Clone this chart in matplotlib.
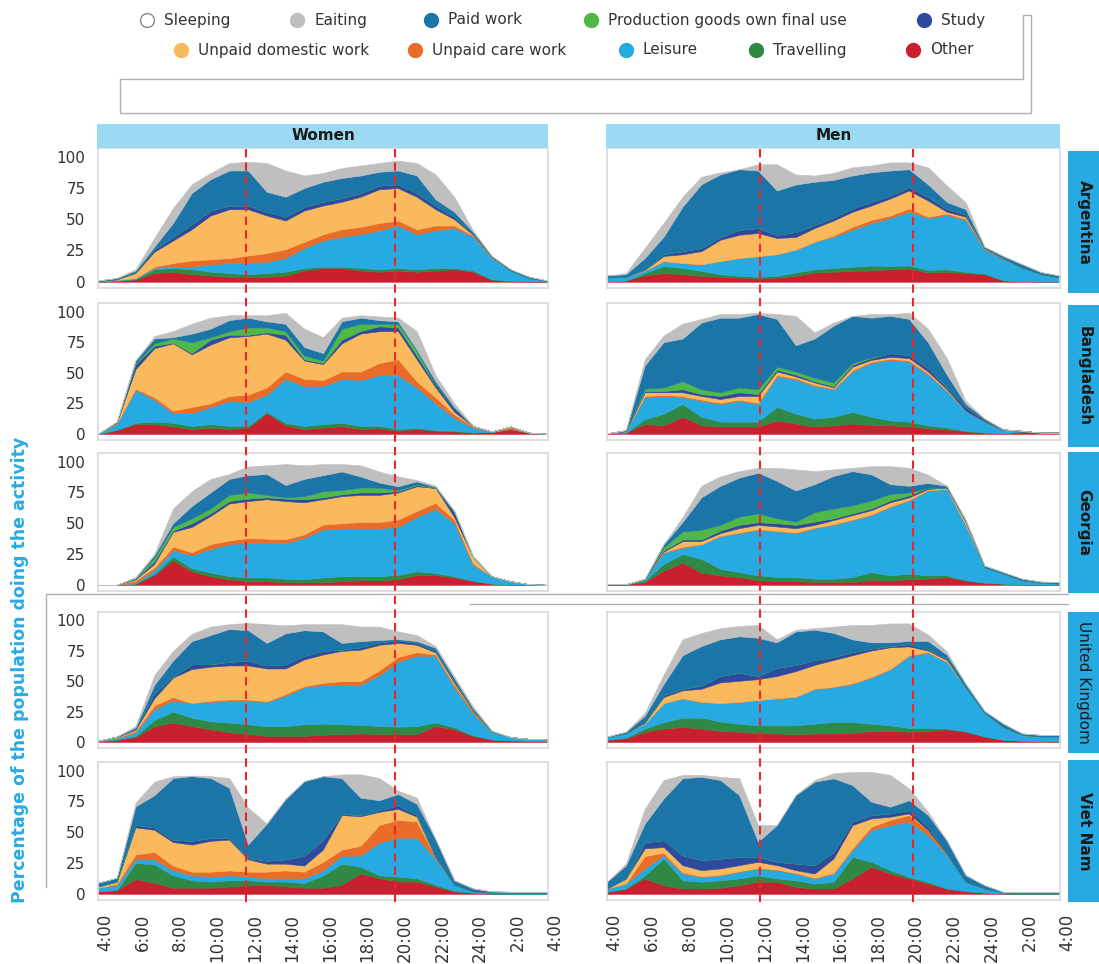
import matplotlib
matplotlib.use("Agg")
import matplotlib.pyplot as plt
from matplotlib.lines import Line2D
from matplotlib.patches import Rectangle, Polygon
from matplotlib import transforms

# hours of the day, 4:00 to 4:00 next day
hours = list(range(4, 29))
tick_hours = list(range(4, 29, 2))
tick_labels = ["4:00", "6:00", "8:00", "10:00", "12:00", "14:00", "16:00",
               "18:00", "20:00", "22:00", "24:00", "2:00", "4:00"]

countries = ["Argentina", "Bangladesh", "Georgia", "United Kingdom", "Viet Nam"]
sexes = ["Women", "Men"]

# stacking order, bottom to top (sleeping = white remainder, not drawn)
activities = ["Other", "Travelling", "Leisure", "Unpaid care work", "Unpaid domestic work",
              "Study", "Production goods own final use", "Paid work", "Eaiting"]
colors = ["#C8202F", "#2F8843", "#27AAE1", "#E96C28", "#FBB95E",
          "#2E4A9E", "#50B848", "#1B75A9", "#BFBFBF"]

# rows: other, travel, leisure, care, domestic, study, prod, paid, eating
#           4    5    6    7    8    9   10   11   12   13   14   15   16   17   18   19   20   21   22   23   24   25   26   27   28
arg_women = [
    [0, 0.5, 2, 7, 8, 6, 5, 4, 4, 4, 5, 9, 11, 11, 9, 8, 9, 8, 9, 10, 8, 1.5, 0.5, 0.3, 0.1],
    [0.2, 0.5, 0, 3, 3, 4, 3, 3, 2, 3, 3, 2, 1, 1, 2, 2, 2, 2, 2, 1, 1, 0.5, 0.5, 0.2, 0.1],
    [0.3, 0.5, 1, 1, 1, 2, 6, 8, 9, 9, 11, 16, 21, 24, 27, 31, 34, 28, 30, 32, 27, 17, 8, 2.5, 0.3],
    [0, 0, 0, 1, 3, 5, 4, 4, 6, 7, 7, 5, 5, 6, 6, 6, 4, 4, 4, 2, 1, 0.2, 0, 0, 0],
    [0, 0.5, 4, 12, 18, 25, 35, 39, 37, 30, 23, 25, 23, 22, 24, 27, 26, 26, 13, 5, 0.5, 0.3, 0, 0, 0],
    [0, 0, 1, 2, 3, 4, 4, 3, 3, 3, 3, 3, 3, 3, 3, 3, 3, 3, 3, 2, 1, 0.3, 0, 0, 0],
    [0] * 25,
    [0.5, 1, 1, 2, 11, 25, 25, 28, 28, 16, 16, 15, 16, 16, 14, 11, 11, 14, 5, 4, 1.5, 0.7, 1, 1, 0.5],
    [0, 0, 1, 7, 12, 7, 5, 6, 7, 23, 21, 10, 7, 8, 8, 7, 8, 10, 20, 12, 1, 0.5, 0, 0, 0],
]
arg_men = [
    [0.5, 1, 5, 7, 6, 4.7, 4, 3.4, 2.6, 3.4, 4.7, 7.4, 8, 8.7, 9, 10, 10.5, 7.4, 8, 7, 6, 1, 0.5, 0.3, 0.2],
    [0, 0, 2, 5.6, 5, 4, 2, 1.3, 1.4, 1.3, 2.7, 2.6, 3, 3.3, 4, 2.6, 2.5, 2.1, 2, 1, 0.5, 0.2, 0, 0, 0],
    [3, 3, 2, 4, 4, 5.3, 10.6, 14.3, 16.5, 17.3, 18.4, 22, 25, 29.6, 34, 38.4, 43, 41.5, 43.4, 41.5, 19.3, 16.8, 10.8, 5.7, 3.2],
    [0, 0, 0, 0, 0, 0, 0, 0, 0, 0, 0, 0, 1, 2.4, 2.5, 2, 2.7, 1, 1.3, 1, 1.2, 0.7, 0, 0, 0],
    [0, 0, 0.5, 4, 7, 10.5, 17, 18.6, 18.5, 13, 10, 11, 12, 12, 11.5, 13.6, 14.3, 13, 1.3, 1.5, 0, 0, 0, 0, 0],
    [0, 0, 0.5, 1.5, 2.5, 2.5, 2.3, 4, 4, 2.6, 4, 2.5, 2.5, 2.7, 3, 2.4, 2.8, 3, 2.3, 2, 0, 0, 0, 0, 0],
    [0] * 25,
    [1.5, 2, 9, 14, 35.5, 51, 50, 48.4, 46, 35.4, 38, 34.5, 30, 26.3, 23.6, 20, 14.2, 10, 5.6, 4, 1, 1.8, 2.7, 1.7, 1.5],
    [0, 1, 8, 11, 8, 6, 1.6, 0, 5, 21, 8, 5, 5.6, 6.6, 5.4, 6.5, 5.5, 13.6, 13.2, 5.6, 0, 0, 0, 0, 0],
]
ban_women = [
    [0, 3, 8, 8, 6, 4, 5, 4, 5, 17, 7, 4, 5, 6.5, 4, 4.5, 2.5, 4, 2.5, 2, 1, 1.5, 4, 1, 0],
    [0, 0.5, 1, 2, 3, 2.5, 3, 2.5, 1.5, 1, 2, 2.5, 3, 2.5, 2.5, 2, 1.5, 1, 0.5, 0.5, 0.2, 0.1, 0, 0, 0],
    [0, 4.5, 27, 18, 8, 10.5, 14, 20.5, 19.5, 14, 36, 32.5, 31, 36, 37.5, 41.5, 44, 33, 22, 10.5, 3.8, 0, 0, 0, 0],
    [0, 0.5, 1, 2, 2, 5, 3, 4, 6, 6, 6, 6, 5, 6, 7, 10, 13, 5, 5, 3, 1, 0.4, 2, 0, 0],
    [0, 0.5, 16, 40, 55, 43, 48, 48, 48, 44, 26, 15, 13, 23, 31, 26, 23, 18, 8, 2, 0.3, 0, 0, 0, 0],
    [0, 0.5, 4, 2, 0.5, 1, 4, 2, 1, 1, 4, 1, 1, 3, 2, 4, 3, 3, 2, 3, 0.2, 0, 0, 0, 0],
    [0, 0, 1, 2, 3.5, 9, 2, 3, 6, 4, 3, 3, 2, 9, 6, 2, 3, 4, 0, 0, 0, 0, 0, 0, 0],
    [0, 0.5, 2, 4, 1, 7, 7, 9, 8, 5, 6, 7, 6, 6, 5, 3, 2, 1, 3, 1, 0, 0, 0, 0, 0],
    [0, 0, 0, 2, 5, 8, 9, 4, 2, 5, 9, 15, 13, 3, 2, 3, 3, 15, 5, 3, 0, 0, 0, 0, 0],
]
ban_men = [
    [0.5, 1, 8, 7, 14, 7, 6, 6, 6, 11, 8.5, 6, 7, 8.5, 7, 7, 6, 4.5, 3.7, 2, 1, 0.5, 2, 1, 1],
    [0, 0, 4, 9.5, 10.5, 7, 4, 4, 4, 11, 8, 6.5, 7, 9.5, 7, 4, 4, 2.5, 1.6, 0.5, 0.2, 0, 0, 0, 0],
    [0, 1, 18, 14.5, 5.5, 13, 14.5, 17, 14.5, 25, 28, 26.5, 22.5, 33, 44, 49.5, 49, 41.5, 29.7, 16.5, 8.8, 2.5, 0.5, 0, 0],
    [0, 0, 1, 1, 1, 1, 1, 1, 1, 1, 1, 1, 0.5, 1, 1, 1, 1, 1, 0.5, 0, 0, 0, 0, 0, 0],
    [0, 0, 3, 2, 3, 3, 3, 3, 5.5, 3, 1.5, 2, 1, 3, 1.5, 1.5, 2, 1.5, 1, 0, 0, 0, 0, 0, 0],
    [0, 1, 1, 1, 2.5, 1.5, 2.5, 3, 1.5, 1.5, 1.5, 1, 1, 1.5, 1.5, 3, 2.5, 3, 1.5, 3, 1, 0.7, 0, 0, 0],
    [0, 0, 2, 3, 6.5, 4, 3, 4, 4, 2.5, 2.5, 3, 3, 1.5, 0.5, 0, 0, 0, 0, 0, 0, 0, 0, 0, 0],
    [0, 0, 19, 37, 35, 54.5, 61, 57, 61.5, 39, 21.5, 32, 46.5, 38.5, 32.5, 30.5, 29.5, 21, 10.5, 2.5, 1.5, 0, 0, 0, 0],
    [0, 0, 5, 5.5, 12, 3, 3, 3, 1, 4, 24, 5, 2.5, 0, 3, 1.5, 5, 11, 13.5, 2.5, 0, 0, 0, 0, 0],
]
geo_women = [
    [0, 0, 1, 8, 20, 11, 7, 4.5, 3, 3, 2, 2, 2, 3, 3.6, 3.6, 4.5, 8, 8, 6, 3, 1, 0.3, 0, 0],
    [0, 0, 0, 1, 3, 2.5, 3, 2.5, 3, 3, 3, 2.5, 4, 4, 3.4, 3.4, 3.5, 3, 1.6, 1, 0.3, 0, 0, 0, 0],
    [0, 0, 0.5, 3, 5, 10.5, 19, 26, 28, 28, 29, 33.5, 39, 39, 39, 39, 39, 44, 52, 43, 13, 6, 2.7, 0.5, 0],
    [0, 0, 2, 2, 3, 2.5, 4, 3, 4, 3.5, 3, 3, 4, 4, 5, 5, 6, 5, 5, 3, 1, 0, 0, 0, 0],
    [0, 0, 1, 3, 12, 20.5, 23, 30, 30, 32, 31, 26, 20.5, 22, 22, 22, 22, 20, 12, 2, 5, 0, 0, 0, 0],
    [0, 0, 0.5, 2, 1, 3, 2, 2, 2, 1.5, 2, 2.5, 1.5, 1.5, 2, 2, 1, 1, 0, 4, 0.5, 0, 0, 0, 0],
    [0, 0, 0.5, 3, 3, 4, 4, 5, 5, 2, 1, 2.5, 5, 3.5, 4, 4, 1, 0.5, 0.5, 0, 0, 0, 0, 0, 0],
    [0, 0, 0.5, 2, 3, 10, 13, 13, 14, 17, 10, 14, 13, 15, 9, 4, 3, 2.5, 0.5, 1, 0, 0, 0, 0, 0],
    [0, 0, 0, 1, 12, 12, 11, 4, 7, 7, 17, 11, 9, 6, 9, 9, 8, 1, 1, 0, 0, 0, 0, 0, 0],
]
geo_men = [
    [0.3, 0.3, 2.4, 11.6, 18, 10, 7.7, 6.3, 3.7, 3, 3, 2.4, 2.4, 2.4, 3.7, 3.7, 4.5, 5, 6.3, 3.7, 1.8, 1, 0.3, 0.2, 0.1],
    [0, 0, 1, 5.4, 7, 11, 5.3, 4, 4, 3.3, 3.3, 2.6, 2.6, 3.9, 6.6, 4, 4.5, 2.7, 1.5, 0, 0, 0, 0, 0, 0],
    [0.2, 0.2, 1.1, 9, 5, 12, 26.4, 31.7, 37, 37.1, 35.7, 41, 43.7, 46.3, 46.3, 55.5, 59.5, 68.8, 70, 45, 12.5, 8, 3.4, 1.6, 0.9],
    [0, 0, 0, 0.5, 1, 0, 0.5, 0.5, 0.5, 0.5, 0.5, 0.5, 0.5, 0.5, 0.5, 0.5, 0.5, 0.3, 0.2, 0, 0, 0, 0, 0, 0],
    [0, 0, 0, 0.5, 4.5, 2.5, 2.1, 3.5, 3.5, 3.5, 3.5, 2.2, 3.4, 3.5, 3.5, 3.3, 2, 1, 1, 2.6, 0, 0, 0, 0, 0],
    [0, 0, 0, 1, 1.3, 1.3, 2, 2.7, 2.1, 2.6, 2.7, 2.6, 1.4, 1.4, 1.4, 1.5, 1.5, 1, 0, 0, 0, 0, 0, 0, 0],
    [0, 0, 0, 2.5, 6.6, 7.9, 4.7, 6.6, 7.2, 4, 2.6, 7.7, 8, 6.6, 6.5, 5.3, 2.5, 0, 0, 0, 0, 0, 0, 0, 0],
    [0, 0, 0.5, 2.5, 7.6, 26.3, 31.7, 31.7, 33, 30.4, 25.2, 22.7, 26.4, 27.7, 21.2, 7.9, 5.4, 3.9, 1.4, 1.3, 1.3, 1.3, 1.3, 0.8, 1.4],
    [0, 0, 0, 0, 4, 9.4, 7.6, 5.3, 4, 10.6, 17.2, 10.6, 5.3, 2.7, 6.6, 14.6, 14.6, 6.7, 0, 0, 0, 0, 0, 0, 0],
]
uk_women = [
    [0.5, 1.5, 4, 13, 16, 13, 10.5, 8, 6.5, 5, 5, 5, 6, 6.5, 7, 6.5, 6.5, 6.5, 13, 10.5, 5, 2, 1.3, 1, 1],
    [0, 0.5, 1, 5, 9, 7, 6.5, 8, 8, 8, 8, 9.5, 9, 8, 7, 6.5, 6.1, 6.5, 3, 1.5, 0.5, 0, 0, 0, 0],
    [0.5, 1, 3, 9, 9, 12, 16, 18, 19.5, 20, 25, 30.5, 32, 32.5, 33, 42, 53.4, 58, 55, 33, 18, 6, 2.7, 1.5, 1],
    [0, 0.5, 1, 3, 3, 0, 1, 1, 1, 0.5, 1.5, 1, 1.7, 3, 3, 4, 4, 3, 1, 2, 2.3, 0.5, 0, 0, 0],
    [0, 0.5, 1, 6, 16, 28, 28, 28, 28, 27, 21, 22, 23.3, 25, 26, 21, 11.6, 6, 1.7, 1.7, 0, 0, 0, 0, 0],
    [0, 0.2, 1, 4, 1, 4, 2, 3, 4, 2.5, 3.5, 3, 3, 1, 2, 2, 2.1, 1.6, 1.3, 1.8, 0.5, 0, 0, 0, 0],
    [0] * 25,
    [0, 0.3, 1, 7, 13, 19, 24, 27, 25, 18.5, 25.5, 21, 16, 5.5, 5, 2, 1, 1.4, 2.6, 2.1, 1.5, 0.5, 0, 0, 0],
    [0, 0, 1, 8, 8, 6, 7, 4, 6, 15.5, 6.5, 5, 6, 15.5, 12, 11, 6.3, 5, 1.4, 1.4, 1.5, 0.5, 0, 0, 0],
]
uk_men = [
    [1.8, 3, 8.4, 11, 12.3, 11, 9, 8.4, 7, 7, 6.3, 7, 7, 7.6, 9, 9, 8.4, 9, 10.5, 8.4, 4.5, 1.8, 1, 0.6, 0.5],
    [0, 0.5, 2.6, 5.3, 7.7, 9, 7.8, 6.6, 6.6, 6.6, 7.3, 8, 9.3, 8.7, 6, 4.6, 3.1, 2.5, 0.5, 0.3, 0, 0, 0, 0, 0],
    [2.7, 3.5, 4, 15.7, 16, 13, 15.2, 18, 21, 22.4, 23.7, 28.8, 28.7, 31.5, 38, 46, 59.4, 62, 55, 36.3, 19.5, 10.5, 4.8, 3.9, 4],
    [0, 0, 0, 0, 0, 0, 0, 0, 0, 0, 0, 0, 0.5, 0.5, 0.5, 0.5, 0.5, 0.5, 0, 0, 0, 0, 0, 0, 0],
    [0, 0, 1, 5, 6.5, 10.8, 17, 17.4, 17.1, 18.3, 21, 19.7, 22, 23.1, 21.8, 17.9, 7.3, 1.3, 1.5, 0, 0, 0, 0, 0, 0],
    [0, 0, 0, 1.6, 1.3, 2.7, 5.3, 6.6, 2.6, 6.7, 5.2, 4, 2.5, 2.6, 1.7, 1, 1.9, 1.3, 1, 0, 0, 0, 0, 0, 0],
    [0] * 25,
    [0, 1.4, 5.5, 9.2, 27.6, 32.5, 30.2, 30, 31.5, 21, 27.5, 24.9, 19.8, 10.5, 5, 3, 2.6, 6.6, 3.4, 2.8, 1.5, 2.7, 1.2, 1.3, 1.3],
    [0, 0, 2.5, 7.8, 13.1, 10.7, 9.2, 8.5, 10.5, 2.5, 1.4, 1.3, 5.2, 11.8, 14.3, 15.6, 14.4, 5.3, 2.6, 0, 0, 0, 0, 0, 0],
]
vn_women = [
    [2, 3, 12, 9, 5, 5, 5, 6, 7, 7.4, 6, 5, 5, 7.4, 16.6, 12.6, 10, 10, 6, 2, 1, 0.2, 0.1, 0.1, 0.1],
    [0, 0, 13, 15, 10, 6, 5, 5, 4, 2.6, 4, 3.7, 10, 17, 5.4, 2.4, 4, 2.6, 1.4, 0.5, 0, 0, 0, 0, 0],
    [3, 4, 3, 4, 4, 4, 4, 4, 3, 2.6, 2.6, 3.9, 4, 6.5, 9, 26.6, 31.5, 33, 21, 4.9, 1, 0.8, 0.6, 0.6, 0.6],
    [0, 1, 4, 6, 4, 3, 4, 4, 4, 5.4, 6.4, 5.4, 7, 5, 8, 14.4, 14.5, 13.2, 1.3, 0, 0, 0, 0, 0, 0],
    [1, 2, 22, 18, 19, 22, 25, 25, 10, 6.5, 5.5, 5, 10, 28, 24, 10.6, 9, 3.9, 0, 0, 0, 0, 0, 0, 0],
    [0, 0, 2, 2, 2, 3, 2.5, 1.5, 1, 2.5, 3.5, 8, 8, 1, 1, 1.4, 3, 1.4, 0.3, 0, 0, 0, 0, 0, 0],
    [0] * 25,
    [3, 3, 15, 26, 50, 52.5, 48.5, 40.5, 11, 30, 49, 60.5, 51.5, 29, 14, 8, 9, 9, 14.3, 3.6, 2.4, 1, 1, 1, 1],
    [0, 0, 3, 11, 1.5, 0.5, 1.5, 8, 30, 0, 0, 0, 0, 3, 19, 18, 2.7, 5, 0, 0, 0, 0, 0, 0, 0],
]
vn_men = [
    [1.6, 4.3, 12.5, 7, 4.3, 4.3, 4.9, 7, 9.8, 9.8, 5.7, 4.3, 4.3, 12.5, 22, 16.5, 12.5, 8.4, 4.3, 2.2, 1, 0.3, 0.2, 0.2, 0.2],
    [0, 0, 2.5, 21.7, 6.7, 5.5, 6.1, 5.5, 5.2, 2.7, 5.3, 4.1, 5.5, 17.5, 4, 2.7, 1.3, 1.4, 0, 0, 0, 0, 0, 0, 0],
    [2.7, 4.1, 5.6, 2.7, 5.5, 4, 4, 5.4, 5.6, 6.7, 5.5, 4.1, 6.7, 5.5, 25.8, 36.6, 44.7, 37.9, 27.1, 7.6, 3.3, 0.8, 0.8, 0.8, 0.8],
    [0, 0, 10, 2, 1, 0.5, 0.5, 0.5, 0.5, 0.5, 0.5, 0.5, 0.5, 1.5, 2.7, 4.2, 5.5, 4.1, 1, 0, 0, 0, 0, 0, 0],
    [0, 4.1, 6.3, 4.6, 5.8, 4.9, 5.1, 4.9, 4.9, 3.6, 2.2, 3.5, 11.7, 18.8, 6.7, 2.6, 1.3, 0, 0, 0, 0, 0, 0, 0, 0],
    [0, 0, 5.1, 5.6, 8.1, 8.2, 8.1, 6.7, 4, 2.7, 5.5, 6.8, 5.3, 2.7, 2.8, 2.7, 2.7, 2.7, 0, 0, 0, 0, 0, 0, 0],
    [0] * 25,
    [5.5, 10.5, 15, 33.9, 62.4, 67.6, 63.7, 50.2, 12.3, 29.8, 55.5, 67.7, 59.8, 29.8, 10.8, 5.4, 8, 9.5, 10.9, 5.4, 2.7, 0.5, 0.5, 0.5, 0.5],
    [0, 1.7, 12, 14.9, 2.7, 1.5, 2.6, 13.6, 13.5, 0, 0, 1.4, 4, 10.7, 24.2, 25.8, 9.6, 2.7, 0, 0, 0, 0, 0, 0, 0],
]

panels = {
    ("Argentina", "Women"): arg_women, ("Argentina", "Men"): arg_men,
    ("Bangladesh", "Women"): ban_women, ("Bangladesh", "Men"): ban_men,
    ("Georgia", "Women"): geo_women, ("Georgia", "Men"): geo_men,
    ("United Kingdom", "Women"): uk_women, ("United Kingdom", "Men"): uk_men,
    ("Viet Nam", "Women"): vn_women, ("Viet Nam", "Men"): vn_men,
}

W, H = 1099, 964
fig = plt.figure(figsize=(W / 100, H / 100), dpi=100)
plt.rcParams['font.family'] = ['DejaVu Sans']


def fx(px):
    return px / W


def fy(py):
    return 1 - py / H


# panel placement in pixels
col_x = [(98, 548), (607, 1060)]
row_y = [(148, 288), (303, 440), (453, 591), (612, 748), (762, 900)]
strip_y = [(151, 293), (305, 447), (452, 593), (612, 753), (760, 902)]
ref_lines = [[11.9, 19.85], [12.1, 20.2]]

top_axes = {}
for r, country in enumerate(countries):
    for c, sex in enumerate(sexes):
        x0, x1 = col_x[c]
        y0, y1 = row_y[r]
        ax = fig.add_axes([fx(x0), fy(y1), (x1 - x0) / W, (y1 - y0) / H])
        polys = ax.stackplot(hours, *panels[(country, sex)], colors=colors)
        for p in polys:
            p.set_edgecolor(p.get_facecolor())
            p.set_linewidth(0.4)
        ax.set_xlim(4, 28)
        ax.set_ylim(-5, 107)
        for s in ax.spines.values():
            s.set_color('#d9d9d9')
            s.set_linewidth(1.2)
        ax.set_yticks([0, 25, 50, 75, 100])
        ax.tick_params(length=0, labelsize=11, labelcolor='#333333', pad=9)
        if c == 1:
            ax.set_yticklabels([])
        ax.set_xticks(tick_hours)
        if r == len(countries) - 1:
            # rotated hour labels, kept just inside the bottom edge
            ax.set_xticklabels(tick_labels, rotation=90, fontsize=12)
            ax.tick_params(axis='x', pad=10)
            shift = transforms.ScaledTranslation(7 / 100, 0, fig.dpi_scale_trans)
            for lab in ax.get_xticklabels():
                lab.set_transform(lab.get_transform() + shift)
        else:
            ax.set_xticklabels([])
        if r == 0:
            top_axes[c] = ax

# dashed red reference lines across each column
for c in range(2):
    tr = transforms.blended_transform_factory(top_axes[c].transData, fig.transFigure)
    for t in ref_lines[c]:
        fig.add_artist(Line2D([t, t], [fy(149), fy(907)], transform=tr, color='#E8262B',
                              lw=1.5, linestyle=(0, (4, 2.5)), zorder=10))

# strips on top
for c, sex in enumerate(sexes):
    x0, x1 = col_x[c]
    fig.add_artist(Rectangle((fx(x0 - 1), fy(148)), (x1 - x0 + 1) / W, 24 / H,
                             transform=fig.transFigure, facecolor='#9BDAF2', edgecolor='none'))
    fig.text(fx((x0 + x1) / 2), fy(136), sex, ha='center', va='center',
             fontsize=11, fontweight='bold', color='#1a1a1a')

# strips on the right
for r, country in enumerate(countries):
    y0, y1 = strip_y[r]
    fig.add_artist(Rectangle((fx(1068), fy(y1)), 40 / W, (y1 - y0) / H,
                             transform=fig.transFigure, facecolor='#27AAE1', edgecolor='none'))
    fig.text(fx(1084), fy((y0 + y1) / 2), country, ha='center', va='center', rotation=-90,
             fontsize=11, color='#1a1a1a',
             fontweight='normal' if country == "United Kingdom" else 'bold')

fig.text(fx(20), fy(670), "Percentage of the population doing the activity", rotation=90,
         ha='center', va='center', fontsize=12.5, fontweight='bold', color='#29ABE2')

# legend
legend_rows = [
    [("Sleeping", 'white', 147), ("Eaiting", '#BFBFBF', 297), ("Paid work", '#1B75A9', 431),
     ("Production goods own final use", '#50B848', 591), ("Study", '#2E4A9E', 924)],
    [("Unpaid domestic work", '#FBB95E', 181), ("Unpaid care work", '#E96C28', 415),
     ("Leisure", '#27AAE1', 626), ("Travelling", '#2F8843', 756), ("Other", '#C8202F', 913)],
]
for i, row in enumerate(legend_rows):
    yy = [20, 50][i]
    for name, col, cx in row:
        edge = '#888888' if col == 'white' else col
        fig.add_artist(Line2D([fx(cx)], [fy(yy)], transform=fig.transFigure, marker='o',
                              markersize=10, markerfacecolor=col, markeredgecolor=edge,
                              markeredgewidth=1, linestyle='none'))
        fig.text(fx(cx + 17), fy(yy), name, ha='left', va='center', fontsize=11, color='#333333')

# leftover frame lines of the original layout
grey = '#b0b0b0'
fig.add_artist(Polygon([(fx(120), fy(79)), (fx(1023), fy(79)), (fx(1023), fy(15)),
                        (fx(1031), fy(15)), (fx(1031), fy(113)), (fx(120), fy(113))],
                       closed=True, fill=False, edgecolor=grey, lw=1, transform=fig.transFigure))
fig.add_artist(Line2D([fx(46), fx(46), fx(1068)], [fy(887), fy(594), fy(594)],
                      transform=fig.transFigure, color=grey, lw=1))
fig.add_artist(Line2D([fx(470), fx(1068)], [fy(604), fy(604)],
                      transform=fig.transFigure, color=grey, lw=1))

plt.savefig('out.png', dpi=100)
